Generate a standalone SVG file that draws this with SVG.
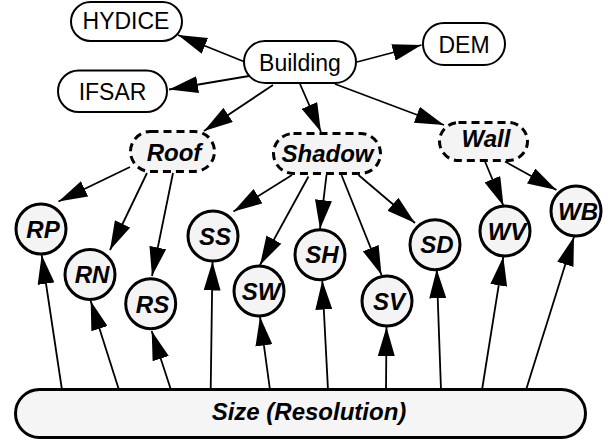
<svg xmlns="http://www.w3.org/2000/svg" width="611" height="444" viewBox="0 0 611 444">
  <style>
    .plain rect { fill: #ffffff; stroke: #000; stroke-width: 2; }
    .plain text { font-family: "Liberation Sans", Arial, sans-serif; font-size: 23px; text-anchor: middle; fill: #000; }
    .group rect { fill: #f4f4f4; stroke: #000; stroke-width: 3; stroke-dasharray: 8 5; }
    .var circle { fill: #f4f4f4; stroke: #000; stroke-width: 3; }
    .bi { font-family: "Liberation Sans", Arial, sans-serif; font-size: 24px; font-weight: bold; font-style: italic; text-anchor: middle; fill: #000; }
    #edges path { fill: none; stroke: #000; stroke-width: 1.8; marker-end: url(#head); }
    #size rect { fill: #f5f5f5; stroke: #000; stroke-width: 3; }
  </style>
  <defs>
    <marker id="head" markerUnits="userSpaceOnUse" markerWidth="29" markerHeight="17" refX="29" refY="8.5" orient="auto">
      <path d="M0,0 L29,8.5 L0,17 z" fill="#000"/>
    </marker>
  </defs>
  <rect width="611" height="444" fill="#fff"/>

  <g id="edges">
    <!-- Building to sources and groups -->
    <path d="M245,62 L178,35"/>
    <path d="M249,76 L169,89.5"/>
    <path d="M357,62 L421.5,45"/>
    <path d="M273,85 L204,131"/>
    <path d="M300,84 L321,132"/>
    <path d="M335,84 L444,125"/>
    <!-- Roof -->
    <path d="M130,167 L58.5,201.5"/>
    <path d="M147,173 L110,250"/>
    <path d="M173,173 L152,276"/>
    <!-- Shadow -->
    <path d="M292,175 L233.5,211.5"/>
    <path d="M308.5,176.5 L260,265"/>
    <path d="M326.5,175 L320,229"/>
    <path d="M341.5,175 L381.5,275"/>
    <path d="M358.5,175 L415,223"/>
    <!-- Wall -->
    <path d="M485,161.5 L503.5,206"/>
    <path d="M505,161.5 L556.5,190"/>
    <!-- Size (Resolution) to each feature -->
    <path d="M62,390 L41.7,255"/>
    <path d="M119,390 L90.7,301"/>
    <path d="M171,390 L151.7,331"/>
    <path d="M210.7,390 L212.5,261.5"/>
    <path d="M270,390 L260,316.7"/>
    <path d="M328,390 L322.3,280.5"/>
    <path d="M386,390 L386.5,327"/>
    <path d="M441,390 L436.7,269.3"/>
    <path d="M482,390 L503.3,256.7"/>
    <path d="M526,390 L574,236.7"/>
  </g>

  <g id="hydice" class="plain"><rect x="71" y="2" width="111" height="39" rx="19.5"/><text x="126" y="29">HYDICE</text></g>
  <g id="ifsar" class="plain"><rect x="58" y="70.5" width="109" height="41.5" rx="20.75"/><text x="112.5" y="99.5">IFSAR</text></g>
  <g id="building" class="plain"><rect x="244" y="41" width="112" height="42" rx="21"/><text x="300" y="70.5">Building</text></g>
  <g id="dem" class="plain"><rect x="423" y="23" width="82" height="42" rx="21"/><text x="464" y="52.5">DEM</text></g>

  <g id="roof" class="group"><rect x="130.5" y="131.5" width="84" height="40" rx="20"/><text class="bi" x="174" y="161">Roof</text></g>
  <g id="shadow" class="group"><rect x="273.5" y="133.5" width="107" height="40" rx="20"/><text class="bi" x="327.5" y="162">Shadow</text></g>
  <g id="wall" class="group"><rect x="439.5" y="122.5" width="88" height="38" rx="19"/><text class="bi" x="486" y="147">Wall</text></g>

  <g id="rp" class="var"><circle cx="41" cy="229" r="25"/><text class="bi" x="43" y="237.5">RP</text></g>
  <g id="rn" class="var"><circle cx="90" cy="274.5" r="25"/><text class="bi" x="92" y="283">RN</text></g>
  <g id="rs" class="var"><circle cx="150.7" cy="303.7" r="25"/><text class="bi" x="152.5" y="312.5">RS</text></g>
  <g id="ss" class="var"><circle cx="213" cy="236" r="25"/><text class="bi" x="215" y="244.5">SS</text></g>
  <g id="sw" class="var"><circle cx="259" cy="291" r="25"/><text class="bi" x="261" y="299.5">SW</text></g>
  <g id="sh" class="var"><circle cx="320" cy="254.7" r="25"/><text class="bi" x="322" y="263">SH</text></g>
  <g id="sv" class="var"><circle cx="387" cy="301" r="25"/><text class="bi" x="389" y="309.5">SV</text></g>
  <g id="sd" class="var"><circle cx="435" cy="244.7" r="25"/><text class="bi" x="437" y="253">SD</text></g>
  <g id="wv" class="var"><circle cx="505" cy="231" r="25"/><text class="bi" x="507" y="239.5">WV</text></g>
  <g id="wb" class="var"><circle cx="576" cy="211" r="25"/><text class="bi" x="578" y="219.5">WB</text></g>

  <g id="size"><rect x="15.5" y="389.5" width="570" height="48" rx="24"/><text class="bi" x="309" y="420">Size (Resolution)</text></g>
</svg>
